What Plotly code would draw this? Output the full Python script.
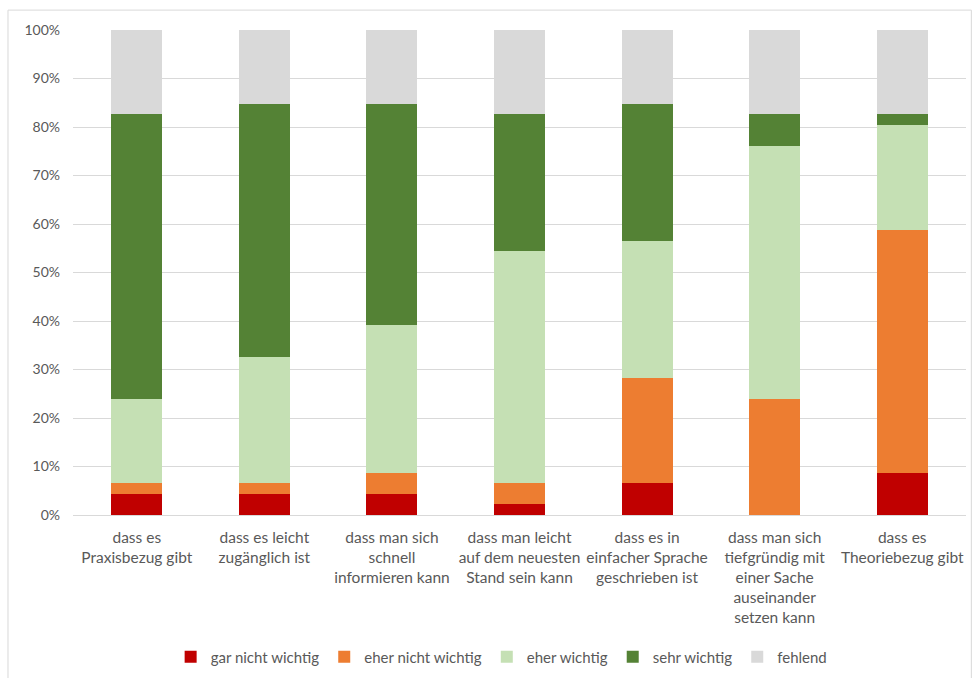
import plotly.graph_objects as go

categories = [
    "dass es<br>Praxisbezug gibt",
    "dass es leicht<br>zugänglich ist",
    "dass man sich<br>schnell<br>informieren kann",
    "dass man leicht<br>auf dem neuesten<br>Stand sein kann",
    "dass es in<br>einfacher Sprache<br>geschrieben ist",
    "dass man sich<br>tiefgründig mit<br>einer Sache<br>auseinander<br>setzen kann",
    "dass es<br>Theoriebezug gibt",
]

gar_nicht_wichtig = [4.35, 4.35, 4.35, 2.17, 6.52, 0.0, 8.70]
eher_nicht_wichtig = [2.17, 2.17, 4.35, 4.35, 21.74, 23.91, 50.00]
eher_wichtig = [17.39, 26.09, 30.43, 47.83, 28.26, 52.17, 21.74]
sehr_wichtig = [58.70, 52.17, 45.65, 28.26, 28.26, 6.52, 2.17]
fehlend = [17.39, 15.22, 15.22, 17.39, 15.22, 17.39, 17.39]

series = [
    ("gar nicht wichtig", gar_nicht_wichtig, "#C00000"),
    ("eher nicht wichtig", eher_nicht_wichtig, "#ED7D31"),
    ("eher wichtig", eher_wichtig, "#C5E0B4"),
    ("sehr wichtig", sehr_wichtig, "#548235"),
    ("fehlend", fehlend, "#D9D9D9"),
]

fig = go.Figure()
for name, vals, color in series:
    fig.add_trace(go.Bar(
        x=categories, y=vals, name=name,
        marker=dict(color=color, line=dict(width=0)),
        width=0.4,
    ))

font_family = "Lato, 'Liberation Sans', sans-serif"
fig.update_layout(
    barmode="stack",
    width=973, height=678,
    margin=dict(l=73, r=7, t=30, b=163, autoexpand=False),
    paper_bgcolor="white",
    plot_bgcolor="white",
    font=dict(family=font_family, color="#595959", size=13),
    legend=dict(
        orientation="h", x=0.48, xanchor="center", y=-0.293, yanchor="middle",
        font=dict(size=15, color="#595959"), itemwidth=30,
        traceorder="normal", itemsizing="constant",
    ),
    showlegend=True,
)
fig.update_yaxes(
    range=[0, 100], dtick=10, ticksuffix="%",
    showgrid=True, gridcolor="#D9D9D9", gridwidth=1,
    zeroline=True, zerolinecolor="#D9D9D9", zerolinewidth=1,
    tickfont=dict(size=14, color="#595959"),
    showline=False, ticks="", automargin=False,
    ticklabelstandoff=12,
)
fig.update_xaxes(
    showline=False, ticks="", tickangle=0,
    tickfont=dict(size=15.5, color="#595959"),
    ticklabelstandoff=11, automargin=False,
)
# outer chart frame
fig.add_shape(
    type="rect", xref="paper", yref="paper",
    x0=-0.0728, x1=1.006, y0=-0.4, y1=1.041,
    line=dict(color="#D9D9D9", width=1), fillcolor="rgba(0,0,0,0)",
    layer="below",
)
fig.write_html("out.html")
